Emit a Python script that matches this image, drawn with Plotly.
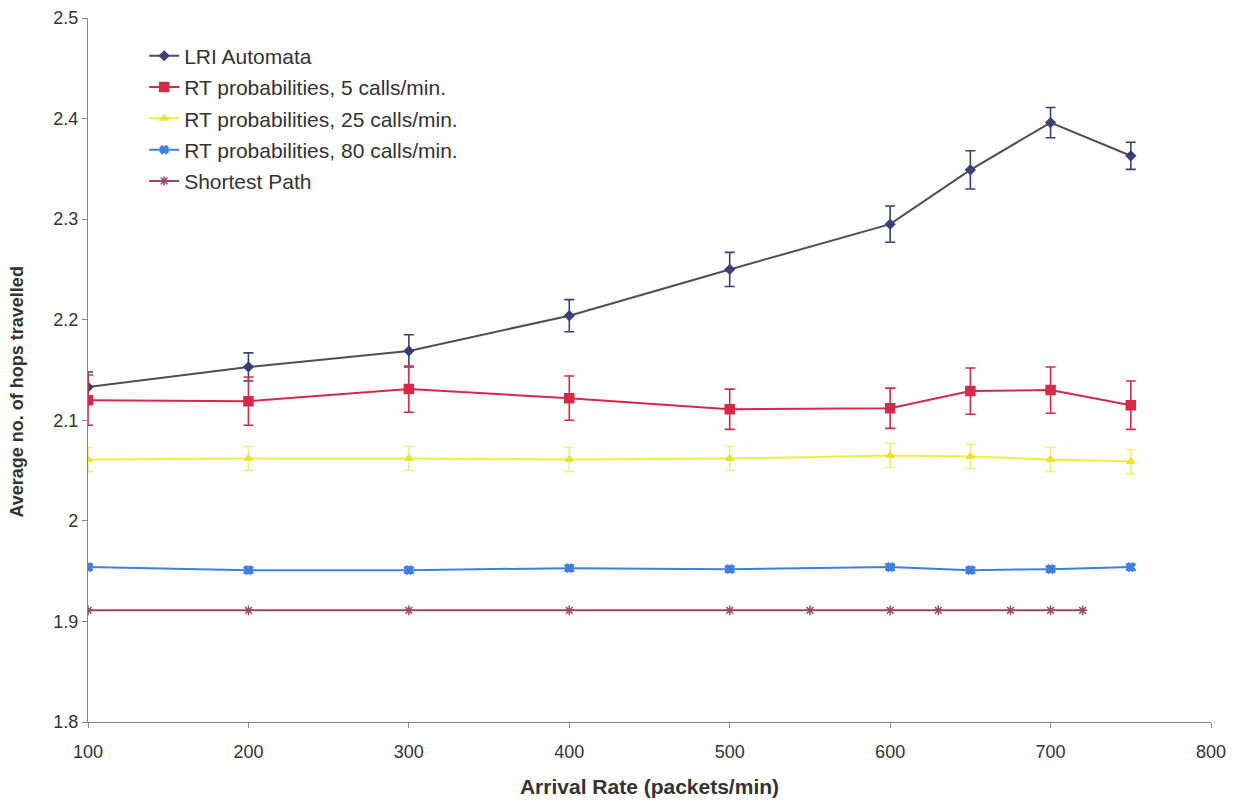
import plotly.graph_objects as go

x_main = [100, 200, 300, 400, 500, 600, 650, 700, 750]
x_sp = [100, 200, 300, 400, 500, 550, 600, 630, 675, 700, 720]

lri = [2.133, 2.153, 2.169, 2.204, 2.250, 2.295, 2.349, 2.396, 2.363]
lri_err = [0.015, 0.014, 0.016, 0.016, 0.017, 0.018, 0.019, 0.015, 0.0135]

rt5 = [2.120, 2.119, 2.131, 2.122, 2.111, 2.112, 2.129, 2.130, 2.115]
rt5_err = [0.025, 0.024, 0.023, 0.022, 0.020, 0.020, 0.023, 0.023, 0.024]

rt25 = [2.061, 2.062, 2.062, 2.061, 2.062, 2.065, 2.064, 2.061, 2.059]
rt25_err = [0.012, 0.012, 0.012, 0.012, 0.012, 0.012, 0.012, 0.012, 0.012]

rt80 = [1.954, 1.951, 1.951, 1.953, 1.952, 1.954, 1.951, 1.952, 1.954]
rt80_err = [0.003, 0.003, 0.003, 0.003, 0.003, 0.003, 0.003, 0.003, 0.003]

sp = [1.911, 1.911, 1.911, 1.911, 1.911, 1.911, 1.911, 1.911, 1.911, 1.911, 1.911]

names = ["LRI Automata", "RT probabilities, 5 calls/min.", "RT probabilities, 25 calls/min.",
         "RT probabilities, 80 calls/min.", "Shortest Path"]

fig = go.Figure()

def add(x, y, err, name, lcolor, mcolor, symbol, msize, ecolor=None):
    kw = {}
    if err is not None:
        kw["error_y"] = dict(type="data", array=err, visible=True, color=ecolor or mcolor,
                             thickness=1.6, width=5)
    fig.add_trace(go.Scatter(x=x, y=y, name=name, mode="lines+markers",
                             legendgroup=name,
                             line=dict(color=lcolor, width=2),
                             marker=dict(color=mcolor, symbol=symbol, size=msize,
                                         line=dict(color=mcolor, width=1.5)),
                             **kw))

add(x_main, lri, lri_err, names[0], "#4e4e58", "#3a3f7a", "diamond", 7)
add(x_main, rt5, rt5_err, names[1], "#d42a48", "#d42a48", "square", 9)
add(x_main, rt25, rt25_err, names[2], "#eeee40", "#e6e630", "triangle-up", 7, "#f0f07a")
add(x_main, rt80, rt80_err, names[3], "#3f7fe0", "#3f7fe0", "x", 7)
add(x_sp, sp, None, names[4], "#9a4866", "#9a4866", "asterisk-open", 8)

base_font = dict(family="Liberation Sans, Arial, sans-serif", size=18, color="#333333")
fig.update_layout(
    width=1246, height=803,
    margin=dict(l=80, r=43, t=10, b=89),
    plot_bgcolor="white", paper_bgcolor="white",
    font=base_font,
    showlegend=True,
    legend=dict(x=0.050, y=0.975, xanchor="left", yanchor="top",
                bgcolor="rgba(0,0,0,0)", font=dict(size=21, color="#333333"),
                tracegroupgap=1, itemwidth=30),
    xaxis=dict(range=[100, 800], tickvals=[100, 200, 300, 400, 500, 600, 700, 800],
               automargin=False,
               showgrid=False, zeroline=False, showline=True, linecolor="#888888",
               linewidth=1.2, ticks="outside", ticklen=5, tickcolor="#888888",
               ticklabelstandoff=8,
               title=dict(text="<b>Arrival Rate (packets/min)</b>",
                          font=dict(size=21, color="#333333"), standoff=18)),
    yaxis=dict(range=[1.8, 2.5], tickvals=[1.8, 1.9, 2.0, 2.1, 2.2, 2.3, 2.4, 2.5],
               ticktext=["1.8", "1.9", "2", "2.1", "2.2", "2.3", "2.4", "2.5"],
               automargin=False,
               showgrid=False, zeroline=False, showline=True, linecolor="#888888",
               linewidth=1.2, ticks="outside", ticklen=5, tickcolor="#888888"),
    annotations=[dict(text="<b>Average no. of hops travelled</b>", textangle=-90,
                      xref="paper", yref="paper", x=-0.0635, y=0.469,
                      xanchor="center", yanchor="middle", showarrow=False,
                      font=dict(size=18, color="#333333"))],
)

fig.write_html("out.html")
